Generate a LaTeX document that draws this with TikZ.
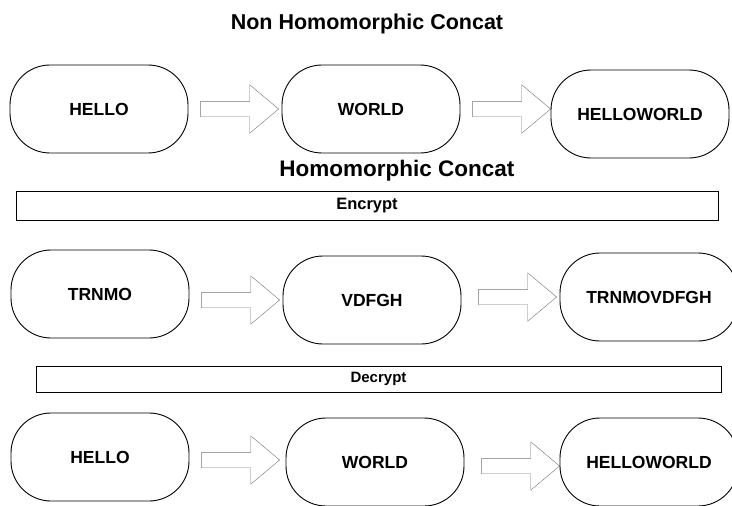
\documentclass[tikz,border=0pt]{standalone}
\usepackage{fontspec}
\setmainfont{Liberation Sans}
\usetikzlibrary{shapes.arrows}

\begin{document}
\begin{tikzpicture}[x=1pt,y=-1pt,node distance=136pt,semithick,
    word/.style={draw,line width=0.9pt,rounded corners=40pt,minimum width=178pt,
                 minimum height=88pt,font=\fontsize{17.5}{20}\selectfont\bfseries},
    fat/.style={shape=single arrow,draw=black!55,fill=white,thin,inner xsep=0pt,
                inner ysep=7.5pt,minimum height=78pt,minimum width=48pt,
                single arrow head extend=16.5pt,single arrow tip angle=80},
    bar/.style={draw,thin,inner sep=0pt}]
  \useasboundingbox (0,0) rectangle (732,506);

  \node[font=\fontsize{21.5}{25}\selectfont\bfseries] (plain) at (367,24) {Non Homomorphic Concat};

  \node[word] (hello1)           at (99,109)       {HELLO};
  \node[fat]  (go1)   [right of=hello1]            {};
  \node[word] (world1) [right of=go1]              {WORLD};
  \node[fat]  (go2)   [right of=world1]            {};
  \node[word] (both1) [right of=go2,xshift=-3pt,yshift=-5pt] {HELLOWORLD};

  \node[font=\fontsize{22.5}{26}\selectfont\bfseries] (homo) at (397,171) {Homomorphic Concat};
  \node[bar,minimum width=702pt,minimum height=29pt,
        font=\fontsize{16.5}{19}\selectfont\bfseries] (enc) at (367,205.5) {Encrypt};

  \node[word] (trnmo)            at (100,294)      {TRNMO};
  \node[fat]  (go3)   [right of=trnmo,yshift=-6pt] {};
  \node[word] (vdfgh) [right of=go3]               {VDFGH};
  \node[fat]  (go4)   [right of=vdfgh,xshift=5pt,yshift=3pt] {};
  \node[word] (both2) [right of=go4]               {TRNMOVDFGH};

  \node[bar,minimum width=685pt,minimum height=26pt,
        font=\fontsize{15}{18}\selectfont\bfseries] (dec) at (378.5,379) {Decrypt};

  \node[word] (hello3)           at (100,457)      {HELLO};
  \node[fat]  (go5)   [right of=hello3,yshift=-3pt] {};
  \node[word] (world3) [right of=go5,xshift=3pt,yshift=-2pt] {WORLD};
  \node[fat]  (go6)   [right of=world3,xshift=5pt,yshift=-4pt] {};
  \node[word] (both3) [right of=go6,xshift=-3pt,yshift=4pt] {HELLOWORLD};
\end{tikzpicture}
\end{document}
